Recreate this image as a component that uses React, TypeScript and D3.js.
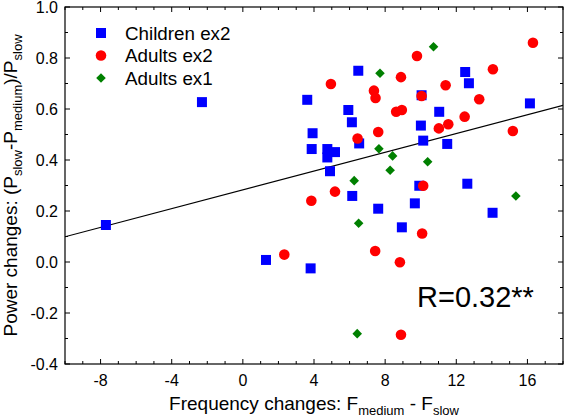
import React from "react";
import * as d3 from "d3";

const childrenX = [-7.7, -2.3, 1.3, 3.62, 3.92, 3.87, 4.75, 5.18, 4.75, 4.9, 5.93, 6.13, 6.49, 6.54, 3.81, 6.15, 7.61, 10.05, 11.04, 10.01, 10.14, 11.49, 12.5, 12.71, 16.14, 9.92, 12.62, 9.67, 8.94, 14.04];
const childrenY = [0.145, 0.627, 0.008, 0.636, 0.505, 0.443, 0.443, 0.431, 0.41, 0.356, 0.596, 0.548, 0.75, 0.465, -0.025, 0.259, 0.209, 0.654, 0.589, 0.535, 0.476, 0.463, 0.745, 0.701, 0.622, 0.299, 0.307, 0.23, 0.136, 0.193];

const adultsEx2X = [4.95, 7.37, 7.46, 7.61, 6.45, 5.18, 3.85, 2.33, 7.44, 9.79, 8.89, 11.4, 10.05, 8.62, 8.94, 13.29, 14.06, 12.47, 11.02, 11.55, 15.18, 16.31, 10.14, 10.08, 8.83, 8.89];
const adultsEx2Y = [0.698, 0.672, 0.643, 0.51, 0.484, 0.276, 0.24, 0.029, 0.043, 0.808, 0.725, 0.693, 0.651, 0.589, 0.596, 0.638, 0.756, 0.57, 0.524, 0.54, 0.514, 0.86, 0.299, 0.112, -0.001, -0.285];

const adultsEx1X = [7.71, 7.65, 6.26, 8.28, 8.42, 10.72, 10.39, 6.51, 6.43, 15.35];
const adultsEx1Y = [0.74, 0.444, 0.319, 0.36, 0.416, 0.844, 0.393, 0.152, -0.281, 0.259];

const fitX = [-10, 18];
const fitY = [0.099, 0.614];

const xTickLabels = [-8, -4, 0, 4, 8, 12, 16];
const yTickLabels = [-0.4, -0.2, 0.0, 0.2, 0.4, 0.6, 0.8, 1.0];
const legendLabels = ["Children ex2", "Adults ex2", "Adults ex1"];
const seriesColors = ["#0000ff", "#ff0000", "#008000"];

const W = 564;
const H = 419;
const left = 65;
const right = 563;
const top = 7;
const bottom = 364;
const FONT = "'Liberation Sans', Arial, sans-serif";

export default function App() {
  const x = d3.scaleLinear().domain([-10, 18]).range([left, right]);
  const y = d3.scaleLinear().domain([-0.4, 1.0]).range([bottom, top]);

  const square = d3.symbol().type(d3.symbolSquare).size(100)()!;
  const circle = d3.symbol().type(d3.symbolCircle).size(88)()!;
  const diamond = d3.symbol().type(d3.symbolSquare).size(46)()!;

  const xMinor = d3.range(-10, 18.001, 1);
  const yMinor = d3.range(-0.4, 1.0001, 0.1);
  const majorLen = 5;
  const minorLen = 3;

  const line = d3
    .line<number>()
    .x((_, i) => x(fitX[i]))
    .y((v) => y(v));

  const marker = (kind: number, cx: number, cy: number, key: string) => {
    if (kind === 0)
      return <path key={key} d={square} transform={`translate(${cx},${cy})`} fill={seriesColors[0]} />;
    if (kind === 1)
      return <path key={key} d={circle} transform={`translate(${cx},${cy})`} fill={seriesColors[1]} />;
    return <path key={key} d={diamond} transform={`translate(${cx},${cy}) rotate(45)`} fill={seriesColors[2]} />;
  };

  const series: [number[], number[]][] = [
    [childrenX, childrenY],
    [adultsEx2X, adultsEx2Y],
    [adultsEx1X, adultsEx1Y],
  ];

  return (
    <svg width={W} height={H} style={{ position: "absolute", left: 0, top: 0, background: "#fff" }} fontFamily={FONT}>
      <defs>
        <clipPath id="plotclip">
          <rect x={left} y={top} width={right - left} height={bottom - top} />
        </clipPath>
      </defs>
      {xMinor.map((v, i) => {
        const isMajor = Math.abs(Math.round(v) % 4) === 0;
        const len = isMajor ? majorLen : minorLen;
        const px = x(v);
        return (
          <g key={"xt" + i} stroke="#000" strokeWidth={1}>
            <line x1={px} x2={px} y1={bottom} y2={bottom - len} />
            <line x1={px} x2={px} y1={top} y2={top + len} />
          </g>
        );
      })}
      {yMinor.map((v, i) => {
        const isMajor = i % 2 === 0;
        const len = isMajor ? majorLen : minorLen;
        const py = y(v);
        return (
          <g key={"yt" + i} stroke="#000" strokeWidth={1}>
            <line x1={left} x2={left + len} y1={py} y2={py} />
            <line x1={right} x2={right - len} y1={py} y2={py} />
          </g>
        );
      })}
      <rect x={left} y={top} width={right - left} height={bottom - top} fill="none" stroke="#000" strokeWidth={1.2} />
      {xTickLabels.map((v) => (
        <text key={"xl" + v} x={x(v)} y={386} textAnchor="middle" fontSize={16} fill="#000">
          {v}
        </text>
      ))}
      {yTickLabels.map((v) => (
        <text key={"yl" + v} x={58} y={y(v) + 6} textAnchor="end" fontSize={16} fill="#000">
          {v.toFixed(1)}
        </text>
      ))}
      <g clipPath="url(#plotclip)">
        <path d={line(fitY) || ""} fill="none" stroke="#000" strokeWidth={1.2} />
        {series.map(([xs, ys], s) => xs.map((xv, i) => marker(s, x(xv), y(ys[i]), `m${s}-${i}`)))}
      </g>
      {legendLabels.map((lab, i) => (
        <g key={"lg" + i}>
          {marker(i, 101, 33 + i * 22.5, "lgm" + i)}
          <text x={125} y={33 + i * 22.5 + 6.5} fontSize={18.8} fill="#000">
            {lab}
          </text>
        </g>
      ))}
      <text x={417} y={307} fontSize={29} fill="#000">
        R=0.32**
      </text>
      <text x={(left + right) / 2} y={410} textAnchor="middle" fontSize={19} fill="#000">
        Frequency changes: F
        <tspan fontSize={13} dy={5}>medium</tspan>
        <tspan dy={-5}> - F</tspan>
        <tspan fontSize={13} dy={5}>slow</tspan>
      </text>
      <text
        transform={`translate(16.5,${(top + bottom) / 2}) rotate(-90)`}
        textAnchor="middle"
        fontSize={19}
        fill="#000"
      >
        Power changes: (P
        <tspan fontSize={13} dy={5}>slow</tspan>
        <tspan dy={-5}>-P</tspan>
        <tspan fontSize={13} dy={5}>medium</tspan>
        <tspan dy={-5}>)/P</tspan>
        <tspan fontSize={13} dy={5}>slow</tspan>
      </text>
    </svg>
  );
}
